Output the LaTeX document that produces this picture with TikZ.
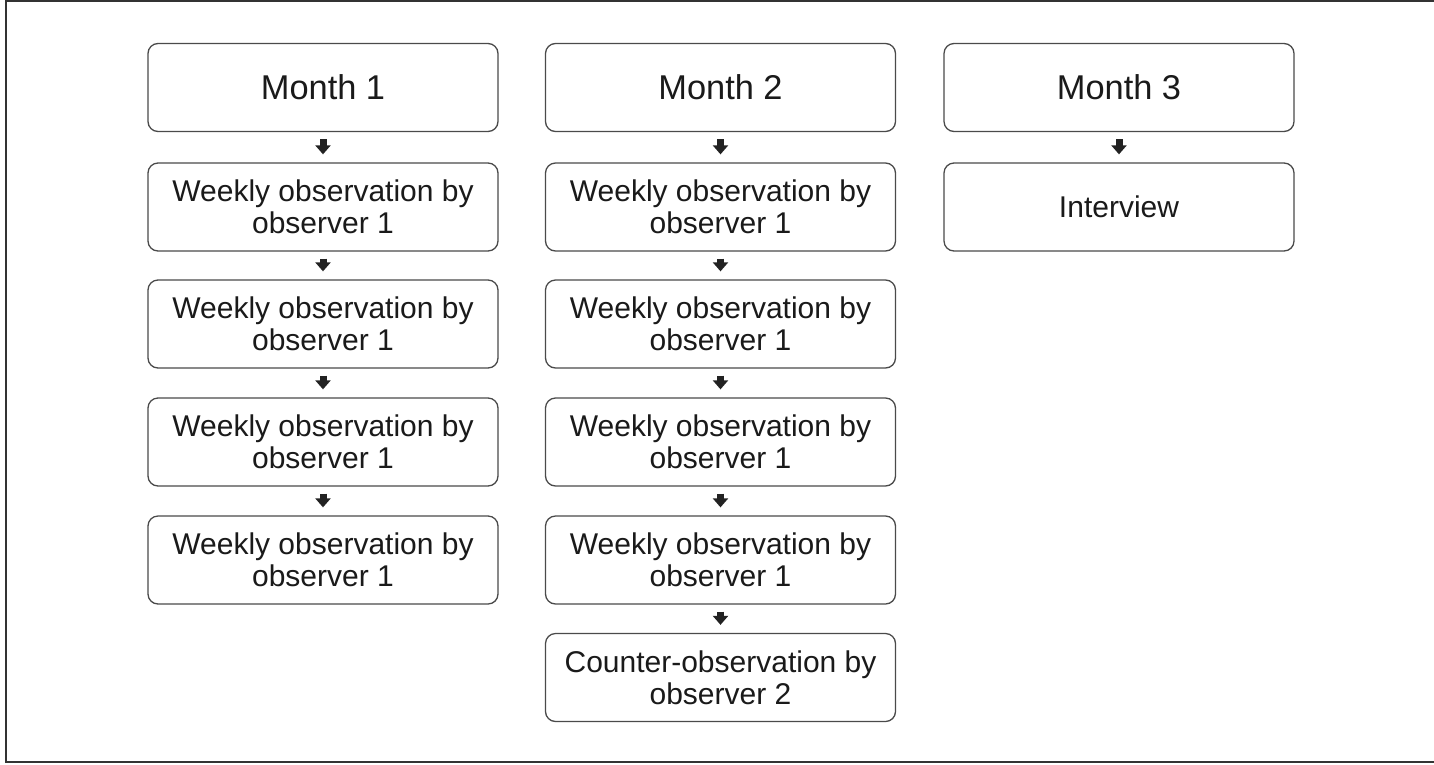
\documentclass[tikz,border=0pt]{standalone}
\usepackage{fontspec}
\setmainfont{Liberation Sans}
\usetikzlibrary{arrows.meta}
\definecolor{boxline}{HTML}{4A4A4A}
\definecolor{txt}{HTML}{1A1A1A}
\definecolor{arr}{HTML}{222222}
\begin{document}
\begin{tikzpicture}[x=1pt,y=-1pt,
  box/.style={draw=boxline, line width=1.3pt, rounded corners=10pt, fill=white,
    minimum width=350pt, minimum height=88pt, align=center, inner sep=0pt,
    text=txt, font=\fontsize{30}{32}\selectfont},
  monthbox/.style={box, font=\fontsize{34.4}{36}\selectfont},
  blkarrow/.style={draw=arr, line width=7pt, -{Triangle[width=15pt,length=9pt]}}]
\useasboundingbox (0,0) rectangle (1434,764);
\draw[line width=1.3pt, draw=black!80] (1436,1) -- (6,1) -- (6,762) -- (1436,762);
% column 1
\node[monthbox] (m1) at (323,87.5) {Month 1};
\node[box] (a1) at (323,207) {Weekly observation by\\observer 1};
\node[box] (a2) at (323,324) {Weekly observation by\\observer 1};
\node[box] (a3) at (323,442) {Weekly observation by\\observer 1};
\node[box] (a4) at (323,560) {Weekly observation by\\observer 1};
% column 2
\node[monthbox] (m2) at (720.5,87.5) {Month 2};
\node[box] (b1) at (720.5,207) {Weekly observation by\\observer 1};
\node[box] (b2) at (720.5,324) {Weekly observation by\\observer 1};
\node[box] (b3) at (720.5,442) {Weekly observation by\\observer 1};
\node[box] (b4) at (720.5,560) {Weekly observation by\\observer 1};
\node[box] (b5) at (720.5,677.5) {Counter-observation by\\observer 2};
% column 3
\node[monthbox] (m3) at (1119,87.5) {Month 3};
\node[box] (c1) at (1119,207) {Interview};
% arrows
\foreach \p/\q in {m1/a1,a1/a2,a2/a3,a3/a4,m2/b1,b1/b2,b2/b3,b3/b4,b4/b5,m3/c1}
  \draw[blkarrow] ([yshift=-7pt]\p.south) -- ([yshift=8pt]\q.north);
\end{tikzpicture}
\end{document}
